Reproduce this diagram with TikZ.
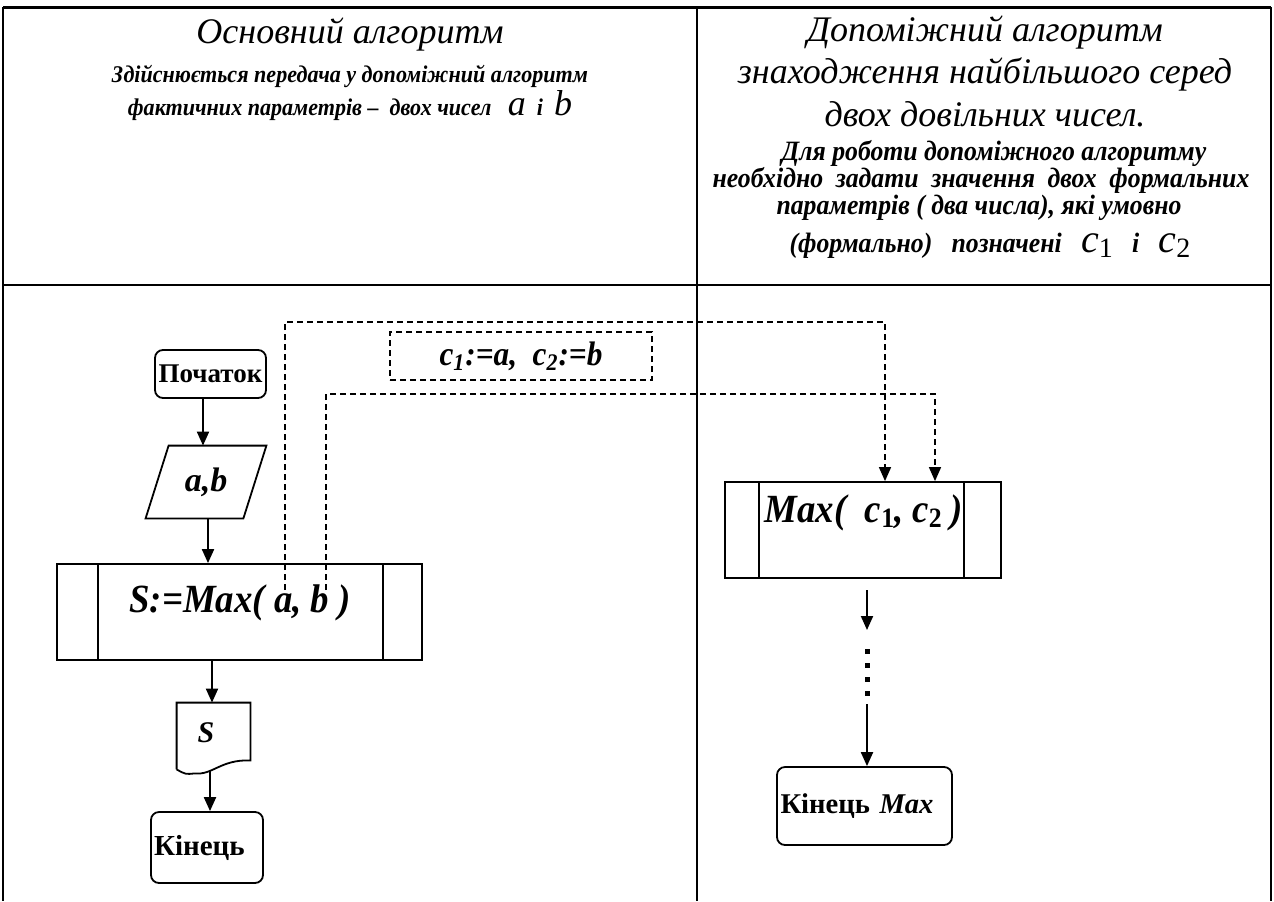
\documentclass[tikz,border=0pt]{standalone}
\usepackage{fontspec}
\setmainfont{Liberation Serif}
\newfontfamily\condfont[FakeStretch=0.92]{Liberation Serif}
\usetikzlibrary{arrows.meta,calc}
\newcommand{\fs}[1]{\fontsize{#1}{#1}\selectfont}
\newcommand{\subup}[2]{\raisebox{-2.5pt}{\fs{#1}\upshape #2}}

\begin{document}
\begin{tikzpicture}[x=0.5pt,y=-0.5pt,
  line/.style={line width=0.9pt},
  arr/.style={line width=1pt,-{Triangle[length=7pt,width=6pt]}},
  dashline/.style={line width=0.75pt,dash pattern=on 3pt off 2pt},
  dasharr/.style={dashline,-{Triangle[length=7pt,width=6pt]}},
  term/.style={draw,line width=0.9pt,rounded corners=4pt,inner sep=0pt},
  plain/.style={inner sep=0pt},
  proc/.style={inner sep=0pt,anchor=base,font=\condfont\fs{20}\bfseries\itshape},
  hdr/.style={inner sep=0pt,anchor=base,font=\fs{18}\itshape},
  hbl/.style={inner sep=0pt,anchor=base,font=\condfont\fs{12}\bfseries\itshape},
  hbr/.style={inner sep=0pt,anchor=base,font=\condfont\fs{14}\bfseries\itshape},
]
\useasboundingbox (0,0) rectangle (1274,901);

% table frame
\draw[line width=1.5pt] (3,7) -- (1271,7);
\draw[line width=1pt] (3,7) -- (3,901) (697,7) -- (697,901) (1271,7) -- (1271,901)
  (3,285) -- (1271,285);

% left heading
\node[hdr] (h1) at (350,43) {Основний алгоритм};
\node[hbl] (h2) at (350,82) {Здійснюється передача у допоміжний алгоритм};
\node[hbl] (h3) at (350,115) {фактичних параметрів –\ \ двох чисел\ \ \ {\normalfont\fs{18}\itshape a}\ \ і\ \ {\normalfont\fs{18}\itshape b}};

% right heading
\node[hdr] (r1) at (985,41) {Допоміжний алгоритм};
\node[hdr] (r2) at (985,83) {знаходження найбільшого серед};
\node[hdr] (r3) at (985,126) {двох довільних чисел.};
\node[hbr] (r4) at (994,160) {Для роботи допоміжного алгоритму};
\node[hbr] (r5) at (981,187) {необхідно\hspace{0.45em}задати\hspace{0.45em}значення\hspace{0.45em}двох\hspace{0.45em}формальних};
\node[hbr] (r6) at (979,214) {параметрів ( два числа), які умовно};
\node[hbr] (r7) at (990,252) {(формально)\ \ \ позначені\ \ \ {\normalfont\fs{20}\itshape c}\subup{14}{\normalfont 1}\ \ \ і\ \ \ {\normalfont\fs{20}\itshape c}\subup{14}{\normalfont 2}};

% main algorithm
\node[term, minimum width=55.5pt, minimum height=24pt, font=\fs{13.5}\bfseries] (start) at (210.5,374) {Початок};

\node[plain, minimum width=60pt, minimum height=36pt, font=\fs{17}\bfseries\itshape] (io) at (206,482) {a,b};
\draw[line] ([xshift=11.5pt]io.north west) -- (io.north east) -- ([xshift=-11.5pt]io.south east) -- (io.south west) -- cycle;

\node[draw, line, minimum width=182.5pt, minimum height=48pt] (sbox) at (239.5,612) {};
\draw[line] ([xshift=21pt]sbox.north west) -- ([xshift=21pt]sbox.south west)
  ([xshift=-20pt]sbox.north east) -- ([xshift=-20pt]sbox.south east);
\node[proc] (stext) at (240,612) {S:=Max( a, b )};

\node[plain, minimum width=36.5pt, minimum height=31pt] (doc) at (213.5,734) {};
\node[plain, font=\fs{15}\bfseries\itshape] (dtext) at (206,733) {S};
\draw[line] ($(doc.south west)+(0,4)$) -- (doc.north west) -- (doc.north east) -- ($(doc.south east)+(0,-5)$)
  .. controls ($(doc.south east)+(-30,-6)$) and ($(doc.south west)+(36,10)$) .. ($(doc.south west)+(18,8)$)
  .. controls ($(doc.south west)+(9,9)$) .. ($(doc.south west)+(0,4)$);

\node[term, minimum width=56pt, minimum height=35.5pt, text width=53pt, align=left,
  font=\fs{14.5}\bfseries] (end) at (207,847.5) {Кінець};

\draw[arr] ([xshift=-3.75pt]start.south) -- ([xshift=-3.75pt]start.south |- io.north);
\draw[arr] ([xshift=1pt]io.south) -- ([xshift=1pt]io.south |- sbox.north);
\draw[arr] (sbox.south -| 212,0) -- (212,0 |- doc.north);
\draw[arr] ($(end.north |- doc.south)+(3,5)$) -- ([xshift=1.5pt]end.north);

% actual parameters handed over
\node[draw, dashline, minimum width=131pt, minimum height=24pt, font=\condfont\fs{17}\bfseries\itshape] (assign) at (521,356) {c\textsubscript{1}:=a,\ \ c\textsubscript{2}:=b};

% auxiliary algorithm
\node[draw, line, minimum width=138pt, minimum height=48pt] (mbox) at (863,530) {};
\draw[line] ([xshift=17.5pt]mbox.north west) -- ([xshift=17.5pt]mbox.south west)
  ([xshift=-19pt]mbox.north east) -- ([xshift=-19pt]mbox.south east);
\node[proc] (mtext) at (864,522) {Max(\ \ c\subup{14}{1}, c\subup{14}{2} )};

\node[term, minimum width=87.5pt, minimum height=39pt, text width=84pt, align=left,
  font=\fs{14.3}\bfseries] (kmax) at (864.5,806) {Кінець \textit{Max}};

\coordinate (q1) at (867,590);
\coordinate (q2) at (867,630);
\coordinate (q3) at (867,649);
\coordinate (q4) at (867,696);
\coordinate (q5) at (867,704);
\draw[arr] (q1) -- (q2);
\draw[line width=2.5pt, dash pattern=on 2.5pt off 4.5pt] (q3) -- (q4);
\draw[arr] (q5) -- (q5 |- kmax.north);

% parameter links
\coordinate (pa) at (285,590);
\coordinate (pb) at (326,590);
\coordinate (ka) at (885,322);
\coordinate (kb) at (935,394);
\draw[dasharr] (pa) |- (ka) -- (ka |- mbox.north);
\draw[dasharr] (pb) |- (kb) -- (kb |- mbox.north);
\end{tikzpicture}
\end{document}
